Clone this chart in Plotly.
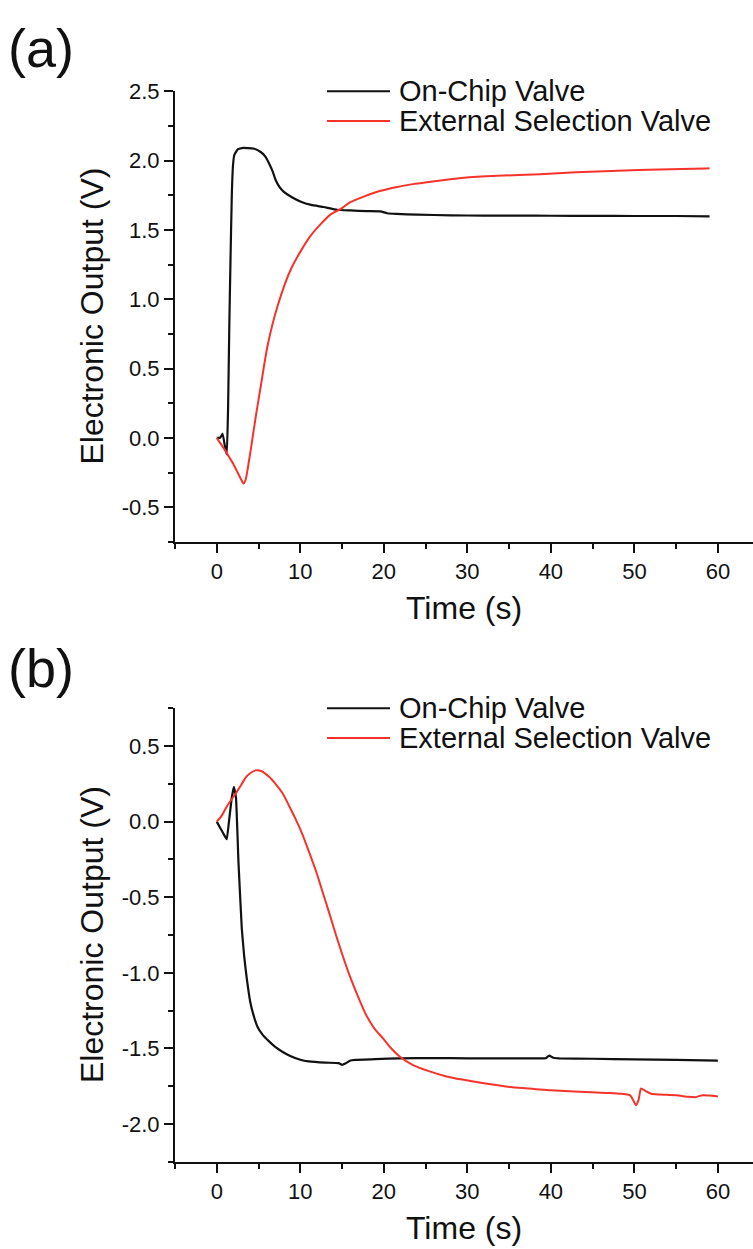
import plotly.graph_objects as go

# ---- Panel (a): step response ----
a_chip_t = [0, 0.4, 0.7, 1.0, 1.2, 1.35, 1.5, 1.65, 1.8, 1.95, 2.1, 2.5, 3.0, 3.7, 4.5,
            5.3, 5.8, 6.25, 6.7, 7.05, 7.5, 8.0, 9.0, 10.0, 11.3, 12.8, 14.4, 16.0, 18.0,
            19.6, 20.4, 21.5, 24, 28, 32, 36, 40, 45, 50, 55, 59]
a_chip_v = [0, 0.0, 0.03, -0.07, -0.12, 0.2, 0.8, 1.3, 1.75, 1.97, 2.04, 2.08, 2.09, 2.09,
            2.085, 2.06, 2.03, 1.98, 1.92, 1.86, 1.81, 1.776, 1.735, 1.705, 1.68, 1.665,
            1.645, 1.64, 1.635, 1.633, 1.62, 1.615, 1.61, 1.605, 1.603, 1.603, 1.602,
            1.601, 1.600, 1.600, 1.598]

a_ext_t = [0, 0.5, 1.0, 1.5, 2.0, 2.5, 3.0, 3.2, 3.46, 3.74, 4.06, 4.66, 5.3, 6.1, 7.3,
           8.9, 11.2, 13.6, 14.8, 16.0, 17.6, 19.5, 21.6, 23.5, 25.6, 27.5, 29.6, 33.6,
           38.7, 43, 48, 53, 58.6, 59]
a_ext_v = [0, -0.045, -0.09, -0.14, -0.19, -0.25, -0.31, -0.33, -0.30, -0.21, -0.09, 0.15,
           0.385, 0.67, 0.955, 1.22, 1.455, 1.61, 1.65, 1.70, 1.74, 1.78, 1.81, 1.83,
           1.847, 1.862, 1.876, 1.89, 1.902, 1.915, 1.927, 1.935, 1.943, 1.944]

# ---- Panel (b): pulse response ----
b_chip_t = [0, 0.5, 1.0, 1.2, 1.5, 1.8, 2.05, 2.3, 2.6, 3.0, 3.3, 3.6, 4.0, 4.4, 4.9, 5.5,
            6.2, 7.0, 7.8, 8.8, 10.0, 11.0, 13.0, 14.6, 15.0, 15.4, 16.0, 16.6, 19.0,
            21.9, 26, 30, 34, 38, 39.4, 39.8, 40.3, 41, 45, 50, 55, 60]
b_chip_v = [0, -0.05, -0.1, -0.116, 0.02, 0.16, 0.23, 0.16, -0.27, -0.71, -0.9, -1.04,
            -1.19, -1.28, -1.36, -1.41, -1.45, -1.49, -1.52, -1.55, -1.575, -1.586,
            -1.594, -1.597, -1.608, -1.60, -1.58, -1.575, -1.57, -1.565, -1.564, -1.565,
            -1.565, -1.566, -1.565, -1.547, -1.562, -1.566, -1.568, -1.572, -1.576, -1.58]

b_ext_t = [0, 0.6, 1.2, 1.8, 2.4, 3.0, 3.5, 4.0, 4.65, 5.3, 6.3, 7.1, 7.9, 8.7, 9.5, 10.3,
           11.1, 11.9, 12.7, 13.5, 14.3, 15.1, 15.9, 16.9, 17.9, 18.9, 19.9, 20.9, 21.9,
           23.5, 25.4, 27.5, 29.4, 32, 35.4, 38, 40, 43.4, 45, 47, 48.5, 49.5, 50.2, 50.5,
           50.8, 51.3, 52, 53, 55, 56.5, 57.3, 58.2, 59, 60]
b_ext_v = [0, 0.04, 0.1, 0.15, 0.197, 0.25, 0.295, 0.32, 0.339, 0.335, 0.295, 0.245, 0.186,
           0.1, 0.01, -0.09, -0.208, -0.33, -0.47, -0.61, -0.755, -0.89, -1.017, -1.155,
           -1.28, -1.37, -1.433, -1.50, -1.553, -1.61, -1.65, -1.685, -1.706, -1.73,
           -1.757, -1.768, -1.777, -1.787, -1.79, -1.794, -1.80, -1.81, -1.875, -1.84,
           -1.765, -1.78, -1.80, -1.805, -1.81, -1.82, -1.822, -1.809, -1.812, -1.818]

series_names = ["On-Chip Valve", "External Selection Valve"]
colors = ["#111111", "#F5332B"]

x_ticks = [0, 10, 20, 30, 40, 50, 60]
a_y_ticks = [-0.5, 0.0, 0.5, 1.0, 1.5, 2.0, 2.5]
b_y_ticks = [-2.0, -1.5, -1.0, -0.5, 0.0, 0.5]

FONT = "Liberation Sans, Arial, sans-serif"
W, H = 753, 1249

fig = go.Figure()
fig.add_trace(go.Scatter(x=a_chip_t, y=a_chip_v, mode="lines", name=series_names[0],
                         line=dict(color=colors[0], width=2.2, shape="spline", smoothing=0.3),
                         xaxis="x", yaxis="y"))
fig.add_trace(go.Scatter(x=a_ext_t, y=a_ext_v, mode="lines", name=series_names[1],
                         line=dict(color=colors[1], width=2.0, shape="spline", smoothing=0.7),
                         xaxis="x", yaxis="y"))
fig.add_trace(go.Scatter(x=b_chip_t, y=b_chip_v, mode="lines", name=series_names[0],
                         line=dict(color=colors[0], width=2.2, shape="spline", smoothing=0.3),
                         xaxis="x2", yaxis="y2"))
fig.add_trace(go.Scatter(x=b_ext_t, y=b_ext_v, mode="lines", name=series_names[1],
                         line=dict(color=colors[1], width=2.0, shape="spline", smoothing=0.6),
                         xaxis="x2", yaxis="y2"))

x_dom = [175 / W, 1.0]
a_dom = [1 - 535 / H, 1 - 80 / H]
b_dom = [1 - 1161 / H, 1 - 703 / H]

def xaxis(anchor, dom_y):
    return dict(domain=x_dom, range=[-5, 64.2], anchor=anchor, tickmode="array",
                tickvals=x_ticks, ticks="outside", ticklen=9, tickwidth=1.6,
                tickcolor="#111", showline=True, linecolor="#111", linewidth=2,
                showgrid=False, zeroline=False,
                tickfont=dict(family=FONT, size=22, color="#111"),
                minor=dict(tickmode="array", tickvals=[-5, 5, 15, 25, 35, 45, 55, 65],
                           ticks="outside", ticklen=5, tickwidth=1.6, tickcolor="#111"))

def yaxis(anchor, dom, rng, ticks, minor_vals):
    return dict(domain=dom, range=rng, anchor=anchor, tickmode="array",
                tickvals=ticks, ticktext=[f"{v:.1f}" for v in ticks],
                ticks="outside", ticklen=9, tickwidth=1.6, tickcolor="#111",
                showline=True, linecolor="#111", linewidth=2, showgrid=False,
                zeroline=False, tickfont=dict(family=FONT, size=22, color="#111"),
                minor=dict(tickmode="array", tickvals=minor_vals, ticks="outside",
                           ticklen=5, tickwidth=1.6, tickcolor="#111"))

fig.update_layout(
    width=W, height=H, margin=dict(l=0, r=0, t=0, b=0),
    paper_bgcolor="white", plot_bgcolor="white", showlegend=False,
    xaxis=xaxis("y", a_dom),
    yaxis=yaxis("x", a_dom, [-0.75, 2.5], a_y_ticks, [-0.75, -0.25, 0.25, 0.75, 1.25, 1.75, 2.25]),
    xaxis2=xaxis("y2", b_dom),
    yaxis2=yaxis("x2", b_dom, [-2.25, 0.75], b_y_ticks, [-2.25, -1.75, -1.25, -0.75, -0.25, 0.25, 0.75]),
)

annotations = []
shapes = []
for label, dom, y_px in (("(a)", a_dom, 36), ("(b)", b_dom, 662)):
    annotations.append(dict(text=label, x=6 / W, y=1 - y_px / H, xref="paper", yref="paper",
                            xanchor="left", yanchor="middle", showarrow=False,
                            font=dict(family=FONT, size=54, color="#111")))
    annotations.append(dict(text="Electronic Output (V)", textangle=-90,
                            x=92 / W, y=(dom[0] + dom[1]) / 2, xref="paper", yref="paper",
                            xanchor="center", yanchor="middle", showarrow=False,
                            font=dict(family=FONT, size=32, color="#111")))
    annotations.append(dict(text="Time (s)", x=(x_dom[0] + x_dom[1]) / 2,
                            y=dom[0] - 47 / H, xref="paper", yref="paper",
                            xanchor="center", yanchor="top", showarrow=False,
                            font=dict(family=FONT, size=32, color="#111")))
    # legend rows
    for i, (name, col) in enumerate(zip(series_names, colors)):
        ly = dom[1] - i * 30 / H
        shapes.append(dict(type="line", xref="paper", yref="paper", x0=327 / W, x1=390 / W,
                           y0=ly, y1=ly, line=dict(color=col, width=2)))
        annotations.append(dict(text=name, x=397 / W, y=ly, xref="paper", yref="paper",
                                xanchor="left", yanchor="middle", showarrow=False,
                                font=dict(family=FONT, size=29, color="#111")))

fig.update_layout(annotations=annotations, shapes=shapes)
fig.write_html("out.html")
